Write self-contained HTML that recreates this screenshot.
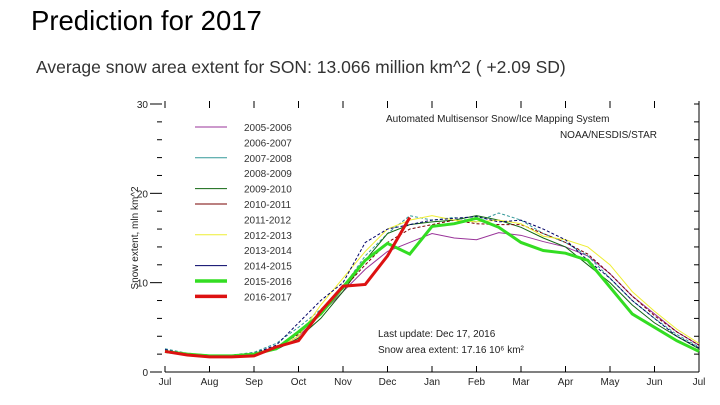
<!DOCTYPE html>
<html><head><meta charset="utf-8"><style>
body{margin:0;background:#fff;width:720px;height:405px;overflow:hidden;font-family:"Liberation Sans",sans-serif}
#title{position:absolute;left:31px;top:5px;font-size:27.5px;color:#000}
#sub{position:absolute;left:36px;top:57px;font-size:17.5px;color:#333}
svg{position:absolute;left:0;top:0}
svg text{font-family:"Liberation Sans",sans-serif}
</style></head><body>
<div id="title">Prediction for 2017</div>
<div id="sub">Average snow area extent for SON: 13.066 million km^2 ( +2.09 SD)</div>
<svg id="chart" width="720" height="405"></svg>
<script>
const months=["Jul","Aug","Sep","Oct","Nov","Dec","Jan","Feb","Mar","Apr","May","Jun","Jul"];
const yTicks=[0,10,20,30];
const legendYears=["2005-2006","2006-2007","2007-2008","2008-2009","2009-2010","2010-2011","2011-2012","2012-2013","2013-2014","2014-2015","2015-2016","2016-2017"];
const legendColors=["#993399","#ffffff","#339999","#ffffff","#116611","#770000","#ffffff","#eeee33","#ffffff","#000066","#33dd22","#dd1111"];
// half-month samples, Jul 1 .. Jul 1
const s0506=[2.4,2.0,1.8,1.8,2.0,2.6,4.0,6.5,9.0,11.5,13.5,14.5,15.5,15.0,14.8,15.6,15.3,14.6,14.0,13.0,11.0,8.5,6.5,4.5,3.0];
const s0708=[2.6,2.1,1.9,1.9,2.2,3.2,5.0,7.0,9.5,13.0,15.5,17.5,17.0,17.3,16.8,17.8,17.0,15.5,14.5,13.0,10.5,8.0,6.0,4.2,2.8];
const s0910=[2.3,2.0,1.8,1.8,2.0,2.5,3.8,6.0,9.0,12.5,15.5,16.5,16.8,17.0,17.5,17.0,16.2,15.0,14.0,12.0,10.0,7.5,5.5,4.0,2.6];
const s1011=[2.4,2.0,1.8,1.9,2.1,2.8,4.2,6.8,9.3,12.0,14.5,16.0,16.5,17.0,16.6,16.5,16.5,15.5,14.5,13.2,11.0,8.5,6.3,4.5,3.0];
const s1213=[2.3,2.0,1.8,1.8,2.0,2.6,4.0,7.5,10.5,13.5,16.0,17.0,17.5,17.0,16.8,17.0,16.6,15.2,14.8,14.0,12.0,9.0,6.8,4.8,3.2];
const s1415=[2.5,2.0,1.9,1.9,2.1,3.0,5.5,8.0,10.0,14.5,16.0,16.5,17.0,17.2,17.4,16.8,17.0,16.0,14.8,12.5,10.5,8.0,6.0,4.0,2.7];
const s1516=[2.3,2.0,1.8,1.8,2.0,2.6,4.5,6.5,9.5,12.5,14.4,13.2,16.3,16.6,17.2,16.2,14.5,13.6,13.3,12.5,9.5,6.5,5.0,3.5,2.3];
const s1617=[2.3,1.9,1.7,1.7,1.8,2.8,3.5,6.8,9.6,9.8,13.0,17.3];
const thin=[[s0506,"#993399"],[s0708,"#339999"],[s0910,"#116611"],[s1011,"#770000"],[s1213,"#eeee33"],[s1415,"#000066"]];
const svg=document.getElementById('chart');const NS="http://www.w3.org/2000/svg";
const X0=165,X1=699,Y0=372,Y30=104;
const xm=m=>X0+m*(X1-X0)/12;
const xi=i=>X0+i*(X1-X0)/24;
const y=v=>Y0-v*(Y0-Y30)/30;
function mk(t,a,p){const e=document.createElementNS(NS,t);for(const k in a)e.setAttribute(k,a[k]);(p||svg).appendChild(e);return e;}
let e=mk('line',{x1:X0,y1:Y0,x2:X1,y2:Y0,stroke:'#000'});

e=mk('line',{x1:X1,y1:Y30,x2:X1,y2:Y0,stroke:'#000'});

months.forEach((m,i)=>{
 mk('line',{x1:xm(i),y1:Y0,x2:xm(i),y2:Y0-6,stroke:'#000'});
 mk('line',{x1:xm(i),y1:Y30-3,x2:xm(i),y2:Y30+4,stroke:'#000'});
 const t=mk('text',{x:xm(i),y:385,'font-size':10,'text-anchor':'middle',fill:'#222'});t.textContent=m;
 
});
for(let v=0;v<=30;v+=2){const L=v%10===0?12:5;
 mk('line',{x1:X0-3-L,y1:y(v),x2:X0-3,y2:y(v),stroke:'#000'});
 mk('line',{x1:X1-5,y1:y(v),x2:X1,y2:y(v),stroke:'#000'});}
yTicks.forEach(v=>{const t=mk('text',{x:X0-17,y:y(v)+4,'font-size':10,'text-anchor':'end',fill:'#222'});t.textContent=v;
 });
e=mk('text',{x:0,y:0,'font-size':10,'text-anchor':'middle',fill:'#222',transform:`translate(138,${y(15)}) rotate(-90)`});
e.textContent='Snow extent, mln km^2';
const line=(arr,c,w,n,dash)=>{const p=mk('polyline',{points:arr.map((v,i)=>xi(i)+','+y(v)).join(' '),fill:'none',stroke:c,'stroke-width':w});
 if(dash)p.setAttribute('stroke-dasharray',dash);};
thin.forEach((t,k)=>line(t[0],t[1],1,'series-line',k%2?'3,2':''));
line(s1516,'#33dd22',3,'series-2015-2016');
line(s1617,'#dd1111',3,'series-2016-2017');
legendYears.forEach((yr,i)=>{const yy=127+i*15.4;const thick=i>=10;
 const l=mk('line',{x1:195,y1:yy,x2:227,y2:yy,stroke:legendColors[i],'stroke-width':thick?3.5:1});
 
 const t=mk('text',{x:244,y:yy+4,'font-size':10,fill:'#333'});t.textContent=yr;
 });
[["Automated Multisensor Snow/Ice Mapping System",386,122,'start'],["NOAA/NESDIS/STAR",657,138,'end'],["Last update: Dec 17, 2016",378,337,'start'],["Snow area extent: 17.16 10\u2076 km\u00b2",378,353,'start']].forEach(a=>{
 const t=mk('text',{x:a[1],y:a[2],'font-size':10,'text-anchor':a[3],fill:'#222'});t.textContent=a[0];
 });
</script>
</body></html>
